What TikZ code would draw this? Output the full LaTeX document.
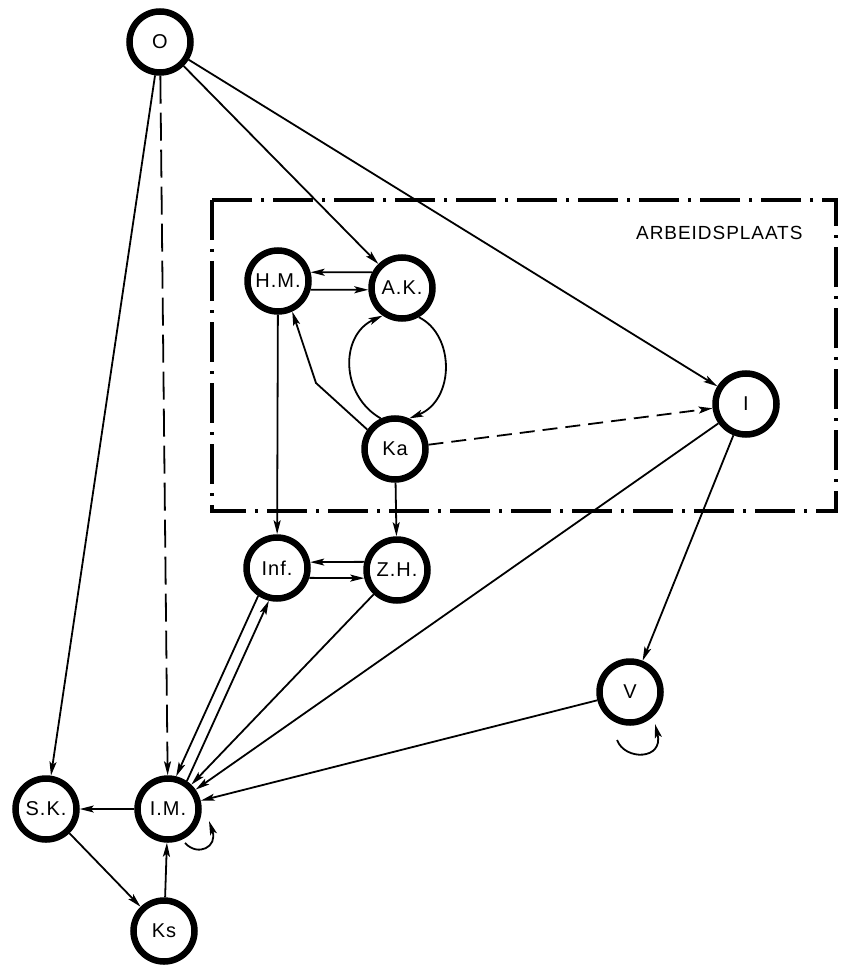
\documentclass[tikz,border=0pt]{standalone}
\usepackage{fontspec}
\setmainfont{Liberation Sans}[LetterSpace=5]
\usetikzlibrary{arrows.meta}
\begin{document}
\begin{tikzpicture}[x=1pt,y=-1pt,
  st/.style={circle, draw, line width=6.5pt, minimum size=61pt, inner sep=0pt, outer sep=3.25pt, font=\fontsize{20}{22}\selectfont},
  ar/.style={line width=1.8pt, -{Stealth[length=14pt,width=7pt,inset=3pt]}},
  longdash/.style={dash pattern=on 28pt off 9pt},
  shortdash/.style={dash pattern=on 15pt off 8pt},
  framestyle/.style={line width=4.5pt, dash pattern=on 40pt off 9pt on 3pt off 9pt}]
\useasboundingbox (0,0) rectangle (845,965);
% frame
\draw[framestyle] (212,200) rectangle (836,511);
\node[anchor=east, font=\fontsize{19}{21}\selectfont] (lbl) at (806,233) {ARBEIDSPLAATS};
% nodes
\node[st] (O)   at (160,42)  {O};
\node[st] (HM)  at (278,281) {H.M.};
\node[st] (AK)  at (402,288) {A.K.};
\node[st] (Ka)  at (395,449) {Ka};
\node[st] (I)   at (746,404) {I};
\node[st] (Inf) at (277,568) {Inf.};
\node[st] (ZH)  at (397,570) {Z.H.};
\node[st] (V)   at (630,692) {V};
\node[st] (SK)  at (46,809)  {S.K.};
\node[st] (IM)  at (168,809) {I.M.};
\node[st] (Ks)  at (164,931) {Ks};
\coordinate (bend) at (316,383);
\coordinate (IMa) at (185,843);
\coordinate (IMb) at (209,821);
\coordinate (Va) at (617,740);
\coordinate (Vb) at (655,724);
% edges
\draw[ar] (O) -- (SK);
\draw[ar, longdash] (O) -- (IM);
\draw[ar] (O) -- (AK);
\draw[ar] (O) -- (I);
\draw[ar] (AK.152) -- (HM.15);
\draw[ar] (HM.-15) -- (AK.183);
\draw[ar] (Ka.115) .. controls (340,395) and (340,335) .. (AK.235);
\draw[ar] (AK.300) .. controls (455,335) and (455,400) .. (Ka.65);
\draw[ar] (Ka.145) -- (bend) -- (HM.-65);
\draw[ar, shortdash] (Ka) -- (I);
\draw[ar] (HM) -- (Inf);
\draw[ar] (Ka) -- (ZH);
\draw[ar] (ZH.166) -- (Inf.10);
\draw[ar] (Inf.-17) -- (ZH.194);
\draw[ar] (Inf.236) -- (IM.76);
\draw[ar] (IM.56) -- (Inf.256);
\draw[ar] (ZH) -- (IM);
\draw[ar] (I) -- (IM);
\draw[ar] (I) -- (V);
\draw[ar] (V) -- (IM);
\draw[ar] (IM) -- (SK);
\draw[ar] (SK) -- (Ks);
\draw[ar] (Ks) -- (IM);
\draw[ar] (IMa) .. controls (198,857) and (218,847) .. (IMb);
\draw[ar] (Va) .. controls (625,761) and (664,760) .. (Vb);
\end{tikzpicture}
\end{document}
